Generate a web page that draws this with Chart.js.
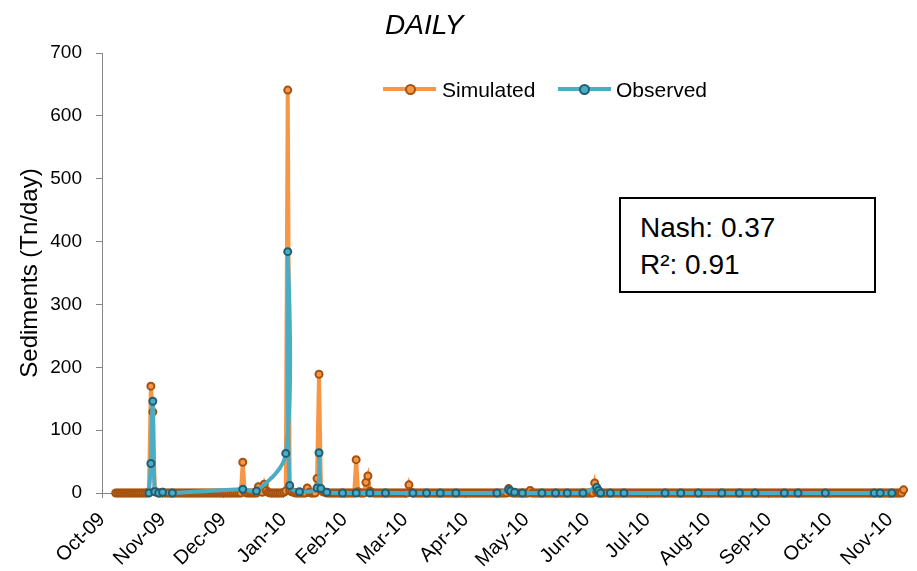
<!DOCTYPE html>
<html>
<head>
<meta charset="utf-8">
<script src="https://cdn.jsdelivr.net/npm/chart.js@4.4.0/dist/chart.umd.min.js"></script>
<style>
  html, body { margin: 0; padding: 0; background: #fff; }
  #wrap { position: relative; width: 917px; height: 571px; font-family: "Liberation Sans", Arial, sans-serif; color: #000; }
  #wrap canvas { position: absolute; left: 0; top: 0; }
  .title { position: absolute; left: 385px; top: 11px; font-size: 28px; line-height: 28px; font-style: italic; }
  .leg-line { position: absolute; top: 87px; height: 4px; width: 53px; }
  .leg-dot { position: absolute; top: 83.5px; width: 7px; height: 7px; border-radius: 50%; border: 2px solid; }
  .leg-text { position: absolute; top: 79px; font-size: 21px; line-height: 21px; white-space: nowrap; }
  .stats { position: absolute; left: 619px; top: 197px; width: 257px; height: 96px; box-sizing: border-box;
           border: 2px solid #000; padding: 9.5px 0 0 19px; font-size: 28px; line-height: 37px; background: #fff; }
</style>
</head>
<body>
<div id="wrap">
  <canvas id="chart" width="917" height="571"></canvas>
  <div class="title">DAILY</div>
  <div class="leg-line" style="left:383px;background:#F79646"></div>
  <div class="leg-dot" style="left:404.5px;background:#F79646;border-color:#A5520F"></div>
  <div class="leg-text" style="left:442px">Simulated</div>
  <div class="leg-line" style="left:558px;background:#4BACC6"></div>
  <div class="leg-dot" style="left:579px;background:#4BACC6;border-color:#215E73"></div>
  <div class="leg-text" style="left:616px">Observed</div>
  <div class="stats">Nash: 0.37<br>R²: 0.91</div>
</div>
<script>
// x axis: days since 1 Oct 2009, one label every 31 days
const xTickLabels = ['Oct-09', 'Nov-09', 'Dec-09', 'Jan-10', 'Feb-10', 'Mar-10', 'Apr-10',
                     'May-10', 'Jun-10', 'Jul-10', 'Aug-10', 'Sep-10', 'Oct-10', 'Nov-10'];
const xTickStep = 31;
const yTicks = [0, 100, 200, 300, 400, 500, 600, 700];

// simulated sediments (Tn/day), one value per day from simulatedStart
const simulatedStart = '2009-10-08';
const simulated = [
  // Oct 8-31
  0,0,0,0,0,0,0,0,0,0,0,0,0,0,0,0,0,2,170,129,3,1,0,0,
  // Nov
  1,0,0,0,0,0,0,0,0,0,0,0,0,0,0,0,0,0,0,0,0,0,0,0,0,0,0,0,0,0,
  // Dec
  0,0,0,0,0,0,0,0,0,0,0,49,2,0,0,0,0,0,0,10,3,1,14,4,1,0,0,0,0,0,0,
  // Jan
  0,1,3,641,4,2,1,0,0,0,0,0,0,8,1,0,0,0,23,189,5,2,1,0,0,0,0,0,0,0,0,
  // Feb
  0,0,0,0,0,0,0,53,2,0,0,0,17,27,3,1,0,0,0,0,0,0,0,0,0,0,0,0,
  // Mar
  0,0,0,0,0,0,13,1,0,0,0,0,0,0,0,0,0,0,0,0,0,0,0,0,0,0,0,0,0,0,0,
  // Apr
  0,0,0,0,0,0,0,0,0,0,0,0,0,0,0,0,0,0,0,0,0,0,0,0,0,0,7,1,0,0,
  // May
  0,0,0,0,0,0,0,4,0,0,0,0,0,0,0,0,0,0,0,0,0,0,0,0,0,0,0,0,0,0,0,
  // Jun
  0,0,0,0,0,0,0,0,0,16,2,0,0,0,0,0,0,0,0,0,0,0,0,0,0,0,0,0,0,0,
  // Jul
  0,0,0,0,0,0,0,0,0,0,0,0,0,0,0,0,0,0,0,0,0,0,0,0,0,0,0,0,0,0,0,
  // Aug
  0,0,0,0,0,0,0,0,0,0,0,0,0,0,0,0,0,0,0,0,0,0,0,0,0,0,0,0,0,0,0,
  // Sep
  0,0,0,0,0,0,0,0,0,0,0,0,0,0,0,0,0,0,0,0,0,0,0,0,0,0,0,0,0,0,
  // Oct
  0,0,0,0,0,0,0,0,0,0,0,0,0,0,0,0,0,0,0,0,0,0,0,0,0,0,0,0,0,0,0,
  // Nov 1-15
  0,0,0,0,0,0,0,0,0,0,0,0,0,0,5
];

// observed sediments (Tn/day), sampled days only
const observedDates = [
  '2009-10-25', '2009-10-26', '2009-10-27', '2009-10-28', '2009-10-30', '2009-11-01', '2009-11-06',
  '2009-12-12', '2009-12-19', '2010-01-03', '2010-01-04', '2010-01-05', '2010-01-10', '2010-01-19',
  '2010-01-20', '2010-01-21', '2010-01-24', '2010-02-01', '2010-02-08', '2010-02-15', '2010-02-23',
  '2010-03-09', '2010-03-16', '2010-03-23', '2010-03-31', '2010-04-21', '2010-04-27', '2010-04-28',
  '2010-04-30', '2010-05-04', '2010-05-14', '2010-05-21', '2010-05-27', '2010-06-04', '2010-06-11',
  '2010-06-12', '2010-06-13', '2010-06-18', '2010-06-25', '2010-07-16', '2010-07-24', '2010-08-02',
  '2010-08-14', '2010-08-23', '2010-08-31', '2010-09-15', '2010-09-22', '2010-10-06', '2010-10-31',
  '2010-11-03', '2010-11-09'
];
const observed = [
  0, 47, 146, 2, 0, 1, 0,
  6, 3, 63, 384, 12, 2, 8,
  64, 7, 1, 0, 0, 0, 0,
  0, 0, 0, 0, 0, 5, 3,
  1, 0, 0, 0, 0, 0, 9,
  4, 0, 0, 0, 0, 0, 0,
  0, 0, 0, 0, 0, 0, 0,
  0, 0
];

const origin = Date.UTC(2009, 9, 1);
function dayOf(s) {
  const [y, m, d] = s.split('-').map(Number);
  return (Date.UTC(y, m - 1, d) - origin) / 86400000;
}

const simFirst = dayOf(simulatedStart);
const simPoints = simulated.map((v, i) => ({ x: simFirst + i, y: v }));
const obsPoints = observed.map((v, i) => ({ x: dayOf(observedDates[i]), y: v }));

const font = '"Liberation Sans", Arial, sans-serif';
Chart.defaults.font.family = font;
Chart.defaults.color = '#000';

new Chart(document.getElementById('chart').getContext('2d'), {
  type: 'line',
  data: {
    datasets: [
      {
        label: 'Simulated',
        data: simPoints,
        borderColor: '#F79646',
        backgroundColor: '#F79646',
        borderWidth: 4,
        pointRadius: 3.5,
        pointBorderWidth: 2,
        pointBackgroundColor: '#F79646',
        pointBorderColor: '#A5520F',
        tension: 0,
        clip: false,
        order: 2,
      },
      {
        label: 'Observed',
        data: obsPoints,
        borderColor: '#4BACC6',
        backgroundColor: '#4BACC6',
        borderWidth: 4,
        pointRadius: 3.5,
        pointBorderWidth: 2,
        pointBackgroundColor: '#4BACC6',
        pointBorderColor: '#215E73',
        tension: 0.35,
        clip: false,
        order: 1,
      },
    ],
  },
  options: {
    responsive: false,
    animation: false,
    events: [],
    layout: { padding: { top: 53, right: 7, left: 0, bottom: 0 } },
    plugins: {
      legend: { display: false },
      tooltip: { enabled: false },
      title: { display: false },
    },
    scales: {
      x: {
        type: 'linear',
        min: 0,
        max: 411,
        afterBuildTicks: (s) => { s.ticks = xTickLabels.map((_, i) => ({ value: i * xTickStep })); },
        afterFit: (s) => { s.height = 78; },
        ticks: {
          autoSkip: false,
          maxRotation: 45,
          minRotation: 45,
          padding: 10,
          font: { size: 20 },
          callback: (v) => xTickLabels[Math.round(v / xTickStep)],
        },
        grid: { drawOnChartArea: false, tickLength: 5, color: '#868686' },
        border: { color: '#868686', width: 1 },
      },
      y: {
        min: yTicks[0],
        max: yTicks[yTicks.length - 1],
        afterBuildTicks: (s) => { s.ticks = yTicks.map((v) => ({ value: v })); },
        afterFit: (s) => { s.width = 102; },
        ticks: { padding: 14, font: { size: 19 } },
        grid: { drawOnChartArea: false, tickLength: 6, color: '#868686' },
        border: { color: '#868686', width: 1 },
        title: {
          display: true,
          text: 'Sediments (Tn/day)',
          font: { size: 24 },
          padding: { top: 16, bottom: 0 },
        },
      },
    },
  },
});
</script>
</body>
</html>
